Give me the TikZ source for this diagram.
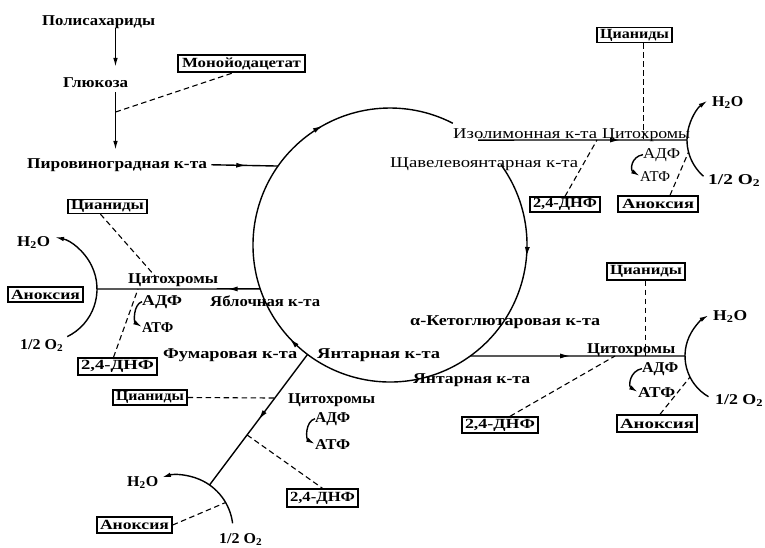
\documentclass[tikz,border=0pt]{standalone}
\usepackage{fontspec}
\usepackage{graphicx}
\setmainfont{Liberation Serif}
\usetikzlibrary{arrows.meta,decorations.markings,calc}
\newsavebox\fitbox
\newcommand\fitw[2]{\sbox\fitbox{#2}\pgfmathsetmacro\fitsx{#1/\the\wd\fitbox}\scalebox{\fitsx}[1]{\usebox\fitbox}}
\begin{document}
\begin{tikzpicture}[x=1pt,y=-1pt,
  >={Latex[length=9pt,width=4.5pt]},
  lbl/.style={inner sep=0pt,anchor=base west,font=\fontsize{15}{16}\selectfont},
  blbl/.style={lbl,font=\fontsize{15}{16}\selectfont\bfseries},
  boxed/.style={draw,line width=1.4pt,inner sep=0pt,font=\fontsize{14}{15}\selectfont\bfseries},
  conn/.style={line width=1.4pt},
  dline/.style={line width=1.1pt,dash pattern=on 5.5pt off 3.5pt},
  midarr/.style={postaction={decorate,decoration={markings,mark=at position #1 with {\arrow{Latex[length=10pt,width=5pt]}}}}},
]
\fill[white] (0,0) rectangle (765,547);
\useasboundingbox (0,0) rectangle (765,547);

% ---------- top left ----------
\node[blbl] (poly) at (42,25) {\fitw{113}{Полисахариды}};
\node[blbl] (gluc) at (63,87) {\fitw{65}{Глюкоза}};
\node[blbl] (pyr) at (27,168) {\fitw{180}{Пировиноградная к-та}};
\node[boxed,minimum width=127,minimum height=17] (mia) at (241.5,63.5) {\fitw{119}{Монойодацетат}};
\draw[conn,->,shorten >=10pt] (poly.south -| 115.5,0) -- (gluc.north -| 115.5,0);
\draw[conn,->,shorten <=5pt,shorten >=8pt] (gluc.south -| 115.5,0) -- (pyr.north -| 115.5,0);
\coordinate (jm) at (115.5,112);
\draw[dline] (jm) -- ($(mia.south)+(-8,0)$);

% ---------- cycle ----------
\coordinate (C) at (390,245);
\draw[conn,postaction={decorate,decoration={markings,
   mark=at position 0.123 with {\arrow{Latex[length=10pt,width=5pt]}},
   mark=at position 0.519 with {\arrow{Latex[length=10pt,width=5pt]}},
   mark=at position 0.83 with {\arrow{Latex[length=10pt,width=5pt]}}}}]
   ($(C)+(324:137)$) arc[start angle=324,end angle=657.3,radius=137];
\coordinate (cPyr) at ($(C)+(215.2:137)$);
\coordinate (cIso) at ($(C)+(310:137)$);
\coordinate (cSuc) at ($(C)+(54.1:137)$);
\coordinate (cMal) at ($(C)+(161.3:137)$);
\coordinate (cFum) at ($(C)+(127:137)$);
\draw[conn,midarr=0.55,shorten <=4pt] (pyr.east) -- (cPyr);

% ---------- top right ----------
\node[lbl] (iso) at (453,138) {\fitw{144}{Изолимонная к-та}};
\node[lbl] (cytTR) at (602,138) {\fitw{88}{Цитохромы}};
\node[lbl] (sha) at (390,167) {\fitw{188}{Щавелевоянтарная к-та}};
\coordinate (oTR) at (735,140);
\coordinate (aTR) at ($(oTR)+(180:48)$);
\draw[conn,midarr=0.68] (cIso) -- (aTR);
\draw[conn,->] ($(oTR)+(131:48)$) arc[start angle=131,end angle=235,radius=48];
\node[blbl] (h2oTR) at (712,106) {\fitw{31}{H\textsubscript{2}O}};
\node[blbl] (o2TR) at (708,184) {\fitw{52}{1/2 O\textsubscript{2}}};
\node[lbl] (adpTR) at (643,158) {\fitw{37}{АДФ}};
\node[lbl] (atpTR) at (640,181) {\fitw{30}{АТФ}};
\draw[conn,->] (adpTR.west) .. controls +(-12,2) and +(-10,-6) .. (atpTR.west);
\node[boxed,minimum width=75,minimum height=15] (cyTR) at (634.5,35) {\fitw{69}{Цианиды}};
\node[boxed,minimum width=70,minimum height=15] (dnTR) at (565,204.5) {\fitw{64}{2,4-ДНФ}};
\node[boxed,minimum width=80,minimum height=16] (anTR) at (658,204) {\fitw{72}{Аноксия}};
\coordinate (jCyTR) at (643.5,140);
\draw[dline] (jCyTR |- cyTR.south) -- (jCyTR);
\coordinate (jDnTR) at (597,140);
\draw[dline] (dnTR.north) -- (jDnTR);
\draw[dline] ($(anTR.north)+(12,0)$) -- ($(oTR)+(165.5:48)$);

% ---------- left ----------
\node[boxed,minimum width=79,minimum height=14] (cyL) at (107.5,206.5) {\fitw{73}{Цианиды}};
\node[boxed,minimum width=75,minimum height=15] (anL) at (45.5,294.5) {\fitw{69}{Аноксия}};
\node[boxed,minimum width=79,minimum height=17] (dnL) at (117.5,366.5) {\fitw{73}{2,4-ДНФ}};
\node[blbl] (cytL) at (128,283) {\fitw{90}{Цитохромы}};
\node[blbl] (h2oL) at (17,246) {\fitw{33}{H\textsubscript{2}O}};
\node[blbl] (adpL) at (142,305) {\fitw{40}{АДФ}};
\node[blbl] (atpL) at (142,332) {\fitw{31}{АТФ}};
\node[blbl] (mal) at (210,306) {\fitw{110}{Яблочная к-та}};
\node[blbl] (o2L) at (20,349) {\fitw{43}{1/2 O\textsubscript{2}}};
\node[blbl] (fum) at (163,358) {\fitw{134}{Фумаровая к-та}};
\node[blbl] (sucC) at (317,358) {\fitw{123}{Янтарная к-та}};
\coordinate (oL) at (44,289);
\coordinate (aL) at ($(oL)+(0:53)$);
\draw[conn,midarr=0.2] (cMal) -- (aL);
\draw[conn,->] ($(oL)+(64:53)$) arc[start angle=64,end angle=-78,radius=53];
\coordinate (jCyL) at (155,276);
\draw[dline] ($(cyL.south)+(-7,0)$) -- (jCyL);
\coordinate (jDnL) at (138,289);
\draw[dline] ($(dnL.north)+(-4,0)$) -- (jDnL);
\draw[conn,->] (adpL.west) .. controls +(-9,3) and +(-8,-5) .. (atpL.west);

% ---------- right bottom ----------
\node[blbl] (akg) at (410,325) {\fitw{190}{α-Кетоглютаровая к-та}};
\node[blbl] (sucB) at (413,383) {\fitw{117}{Янтарная к-та}};
\node[boxed,minimum width=78,minimum height=17] (cyRB) at (646,271.5) {\fitw{72}{Цианиды}};
\node[blbl] (cytRB) at (587,353) {\fitw{88}{Цитохромы}};
\node[blbl] (adpRB) at (642,372) {\fitw{36}{АДФ}};
\node[blbl] (atpRB) at (638,397) {\fitw{37}{АТФ}};
\node[blbl] (h2oRB) at (713,320) {\fitw{34}{H\textsubscript{2}O}};
\node[blbl] (o2RB) at (715,404) {\fitw{48}{1/2 O\textsubscript{2}}};
\node[boxed,minimum width=76,minimum height=16] (dnRB) at (500,425) {\fitw{70}{2,4-ДНФ}};
\node[boxed,minimum width=80,minimum height=17] (anRB) at (657,423.5) {\fitw{74}{Аноксия}};
\coordinate (oRB) at (732,356);
\coordinate (aRB) at ($(oRB)+(180:47)$);
\draw[conn,midarr=0.465] (cSuc) -- (aRB);
\draw[conn,->] ($(oRB)+(120:47)$) arc[start angle=120,end angle=240,radius=47];
\coordinate (jCyRB) at (645.5,356);
\draw[dline] (jCyRB |- cyRB.south) -- (jCyRB);
\coordinate (jDnRB) at (615,356);
\draw[dline] ($(dnRB.north)+(10,0)$) -- (jDnRB);
\draw[dline] ($(anRB.north)+(3,0)$) -- ($(oRB)+(153.4:47)$);
\draw[conn,->] (adpRB.west) .. controls +(-12,2) and +(-10,-6) .. (atpRB.west);

% ---------- bottom ----------
\node[boxed,minimum width=74,minimum height=15] (cyB) at (150,397.5) {\fitw{68}{Цианиды}};
\node[blbl] (cytB) at (288,403) {\fitw{87}{Цитохромы}};
\node[blbl] (adpB) at (315,422) {\fitw{35}{АДФ}};
\node[blbl] (atpB) at (315,449) {\fitw{35}{АТФ}};
\node[boxed,minimum width=71,minimum height=18] (dnB) at (322.5,498) {\fitw{65}{2,4-ДНФ}};
\node[blbl] (h2oB) at (127,486) {\fitw{31}{H\textsubscript{2}O}};
\node[boxed,minimum width=75,minimum height=16] (anB) at (134.5,525) {\fitw{69}{Аноксия}};
\node[blbl] (o2B) at (219,543) {\fitw{43}{1/2 O\textsubscript{2}}};
\coordinate (oB) at (178,530);
\coordinate (aB) at ($(oB)+(-55:55)$);
\draw[conn,midarr=0.5] (cFum) -- (aB);
\path (cFum) -- (aB) coordinate[pos=0.334] (jCyB) coordinate[pos=0.617] (jDnB);
\draw[conn,->] ($(oB)+(-7:55)$) arc[start angle=-7,end angle=-107,radius=55];
\draw[dline] (cyB.east) -- (jCyB);
\draw[dline] (jDnB) -- (dnB.north);
\draw[dline] (anB.east) -- ($(oB)+(-30:55)$);
\draw[conn,->] (adpB.west) .. controls +(-10,3) and +(-9,-5) .. (atpB.west);
\end{tikzpicture}
\end{document}
